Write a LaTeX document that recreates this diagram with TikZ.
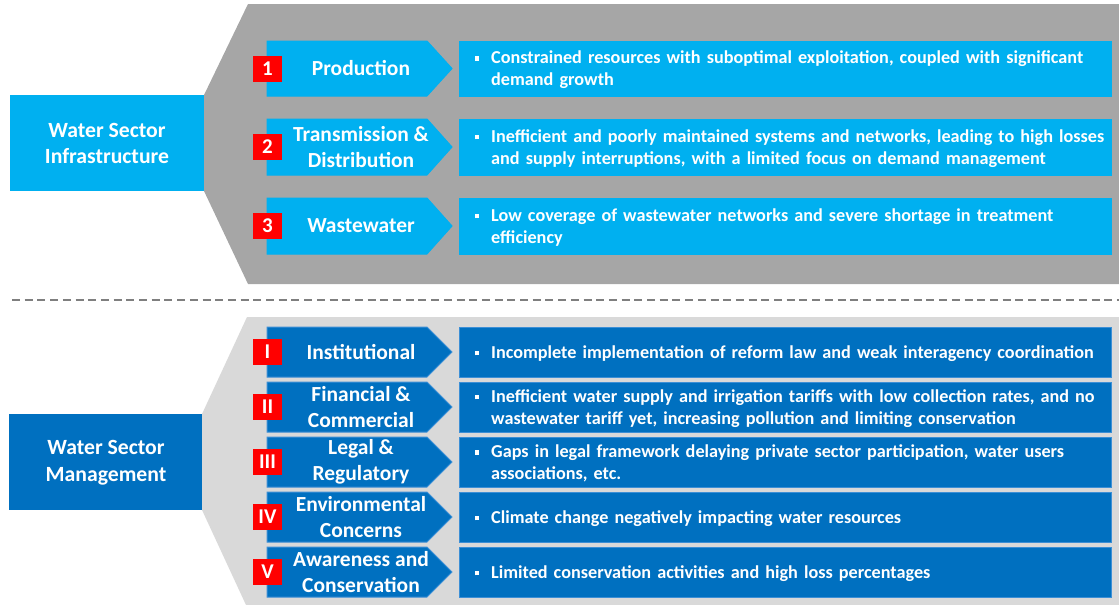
\documentclass[tikz,border=0pt]{standalone}
\usepackage{fontspec}
\setmainfont{Carlito}
\definecolor{lblue}{HTML}{00B0F0}
\definecolor{dblue}{HTML}{0070C0}
\definecolor{dedge}{HTML}{3C8FD6}
\definecolor{bgdark}{HTML}{A6A6A6}
\definecolor{bglight}{HTML}{D9D9D9}
\definecolor{badgered}{HTML}{FF0000}
\definecolor{dashgray}{HTML}{7F7F7F}
\tikzset{
  headbox/.style={text=white, font=\bfseries\fontsize{21.7}{26.5}\selectfont, align=center},
  labeltext/.style={text=white, font=\bfseries\fontsize{21.5}{25.5}\selectfont, align=center},
  badge/.style={fill=badgered, text=white, minimum width=29pt, minimum height=26pt, inner sep=0pt, font=\bfseries\fontsize{21}{22}\selectfont},
  desctext/.style={text=white, font=\bfseries\fontsize{18.2}{22}\selectfont, align=left, text width=625pt, inner sep=0pt, anchor=west, yshift=-1.5pt},
}
\newcommand{\bul}{\leavevmode\llap{\rule[3pt]{4.5pt}{4.5pt}\hspace{12pt}}}
% #1 name, #2 top, #3 bottom, #4 fill, #5 edge, #6 badge, #7 label, #8 desc
\newcommand{\rowitem}[8]{%
  \path[fill=#4, draw=#5, line width=1pt] (267,#2) -- (427,#2) -- (452,{(#2+#3)/2}) -- (427,#3) -- (267,#3) -- cycle;
  \node[labeltext] (#1-lab) at (361,{(#2+#3)/2}) {#7};
  \node[badge] (#1-b) at (267.5,{(#2+#3)/2}) {#6};
  \path[fill=#4, draw=#5, line width=1pt] (459,#2) rectangle (1111,#3);
  \node[desctext] (#1-d) at (491,{(#2+#3)/2}) {\bul #8};
}
\begin{document}
\begin{tikzpicture}[x=1pt,y=-1pt]
\useasboundingbox (0,0) rectangle (1119,605);
% backgrounds
\fill[bgdark] (248,4) -- (1119,4) -- (1119,284) -- (248,284) -- (204,191) -- (204,95) -- cycle;
\fill[bglight] (247,317) -- (1119,317) -- (1119,605) -- (246,605) -- (202,510) -- (202,414) -- cycle;
% head boxes
\fill[lblue] (10,95) rectangle (204,191);
\node[headbox] (infra) at (107,143.5) {Water Sector\\Infrastructure};
\fill[dblue] (9,414) rectangle (202,510);
\node[headbox] (mgmt) at (106,462.5) {Water Sector\\Management};
% dashed separator
\coordinate (dl) at (12,300);
\coordinate (dr) at (1119,300);
\draw[dashgray, line width=2pt, dash pattern=on 8pt off 4.7pt] (dl) -- (dr);
% top rows
\rowitem{p}{41}{96}{lblue}{lblue}{1}{Production}{Constrained resources with suboptimal exploitation, coupled with significant\\demand growth}
\rowitem{t}{119}{175}{lblue}{lblue}{2}{Transmission \&\\Distribution}{Inefficient and poorly maintained systems and networks, leading to high losses\\and supply interruptions, with a limited focus on demand management}
\rowitem{w}{198}{254}{lblue}{lblue}{3}{Wastewater}{Low coverage of wastewater networks and severe shortage in treatment\\efficiency}
% bottom rows
\rowitem{r1}{327}{377}{dblue}{dedge}{I}{Institutional}{Incomplete implementation of reform law and weak interagency coordination}
\rowitem{r2}{382}{432}{dblue}{dedge}{II}{Financial \&\\Commercial}{Inefficient water supply and irrigation tariffs with low collection rates, and no\\wastewater tariff yet, increasing pollution and limiting conservation}
\rowitem{r3}{437}{487}{dblue}{dedge}{III}{Legal \&\\Regulatory}{Gaps in legal framework delaying private sector participation, water users\\associations, etc.}
\rowitem{r4}{492}{542}{dblue}{dedge}{IV}{Environmental\\Concerns}{Climate change negatively impacting water resources}
\rowitem{r5}{547}{597}{dblue}{dedge}{V}{Awareness and\\Conservation}{Limited conservation activities and high loss percentages}
\end{tikzpicture}
\end{document}
